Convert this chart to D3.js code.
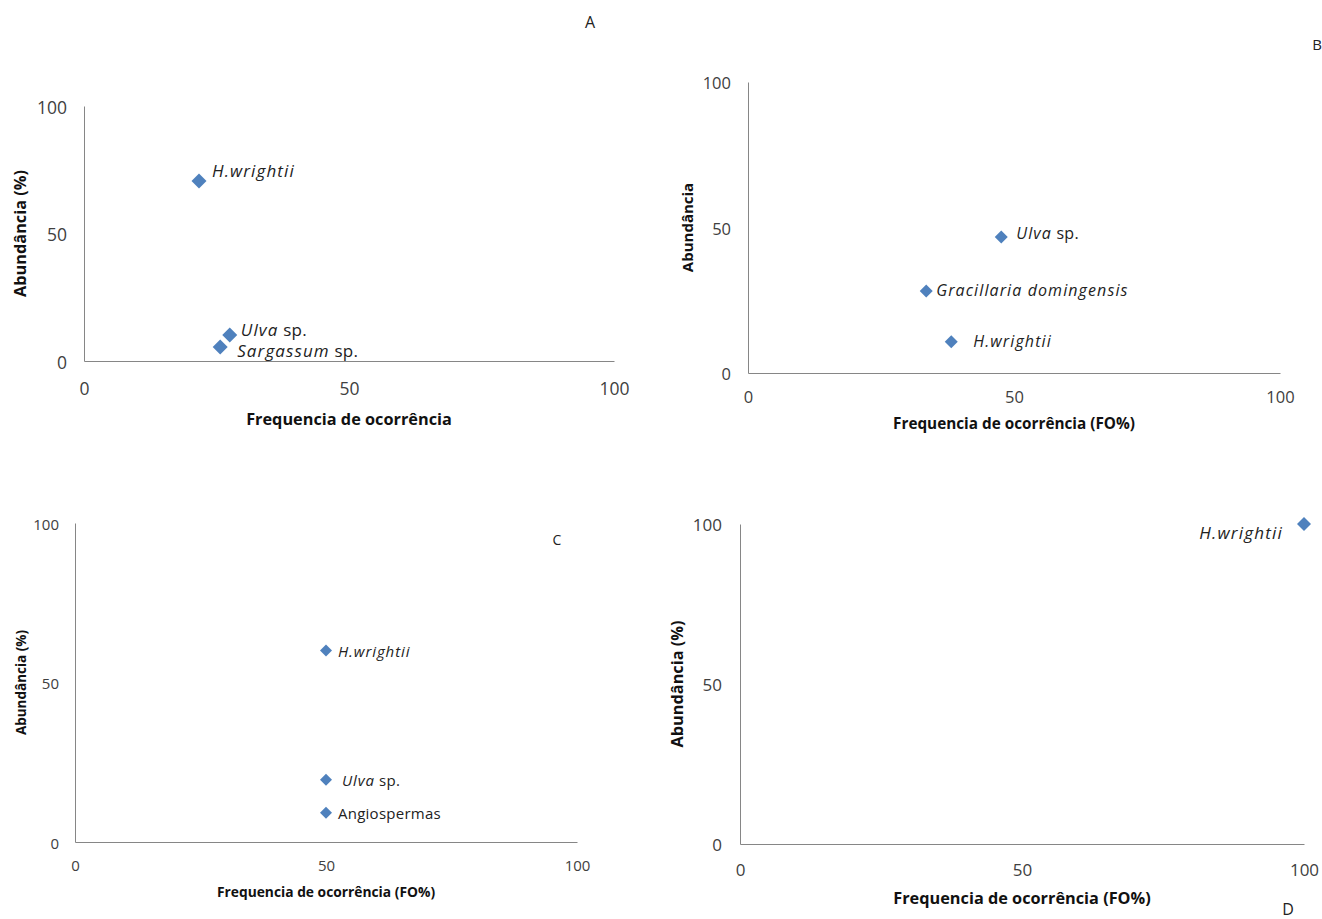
<!DOCTYPE html>
<html>
<head>
<meta charset="utf-8">
<script src="https://cdn.jsdelivr.net/npm/d3@7"></script>
<style>
  html, body { margin: 0; padding: 0; background: #fff; }
  svg { display: block; font-family: "Open Sans", Lato, sans-serif; }
</style>
</head>
<body>
<svg id="chart" width="1322" height="919"></svg>
<script>
// ---- Data ----
const tickValues = [0, 50, 100];

const speciesA = ["H.wrightii", "Ulva sp.", "Sargassum sp."];
const freqA    = [21.7, 27.5, 25.7];
const abundA   = [70.6, 10.2, 5.5];

const speciesB = ["Ulva sp.", "Gracillaria domingensis", "H.wrightii"];
const freqB    = [47.6, 33.5, 38.2];
const abundB   = [46.7, 28.2, 10.7];

const speciesC = ["H.wrightii", "Ulva sp.", "Angiospermas"];
const freqC    = [50, 50, 50];
const abundC   = [60, 19.5, 9.2];

const speciesD = ["H.wrightii"];
const freqD    = [100];
const abundD   = [100];

const nonItalic = ["Angiospermas"];

// ---- Layout (positions / styles only) ----
const FONT = "'Open Sans', Lato, sans-serif";
const panels = [
  { letter: "A", letterX: 590, letterY: 22, letterSize: 16,
    x0: 84, x1: 614, y0: 361, y1: 106,
    tickSize: 17.5, tickYGap: 17, tickXGap: 27,
    xTitle: "Frequencia de ocorrência", xTitleY: 419, xTitleSize: 16.3,
    yTitle: "Abundância (%)", yTitleX: 20, yTitleSize: 16.3,
    markR: 7.5, labelSize: 17, italicSpacing: 1.1, normalSpacing: 0.3,
    species: speciesA, freq: freqA, abund: abundA,
    labelDx: [13, 11, 17], labelDy: [-11, -6, 3], labelAnchor: "start" },
  { letter: "B", letterX: 1317, letterY: 44, letterSize: 15,
    x0: 748, x1: 1280, y0: 373, y1: 82,
    tickSize: 16.5, tickYGap: 17, tickXGap: 23,
    xTitle: "Frequencia de ocorrência (FO%)", xTitleY: 423, xTitleSize: 15.3,
    yTitle: "Abundância", yTitleX: 687, yTitleSize: 15,
    markR: 6.5, labelSize: 16, italicSpacing: 1.1, normalSpacing: 0.3,
    species: speciesB, freq: freqB, abund: abundB,
    labelDx: [15, 10, 22], labelDy: [-4, -1, -1], labelAnchor: "start" },
  { letter: "C", letterX: 557, letterY: 539, letterSize: 14,
    x0: 75, x1: 577, y0: 842, y1: 523,
    tickSize: 15, tickYGap: 16, tickXGap: 23,
    xTitle: "Frequencia de ocorrência (FO%)", xTitleY: 891, xTitleSize: 13.8,
    yTitle: "Abundância (%)", yTitleX: 21, yTitleSize: 13.5,
    markR: 6, labelSize: 15, italicSpacing: 0.9, normalSpacing: 0.25,
    species: speciesC, freq: freqC, abund: abundC,
    labelDx: [12, 16, 12], labelDy: [0, 0, 0], labelAnchor: "start" },
  { letter: "D", letterX: 1288, letterY: 909, letterSize: 16,
    x0: 740, x1: 1304, y0: 844, y1: 524,
    tickSize: 17, tickYGap: 18, tickXGap: 25,
    xTitle: "Frequencia de ocorrência (FO%)", xTitleY: 898, xTitleSize: 16.3,
    yTitle: "Abundância (%)", yTitleX: 677, yTitleSize: 16.3,
    markR: 7, labelSize: 17, italicSpacing: 1.2, normalSpacing: 0.3,
    species: speciesD, freq: freqD, abund: abundD,
    labelDx: [-21], labelDy: [8], labelAnchor: "end" }
];

const svg = d3.select("#chart");
const markColor = "#4F81BD";
const axisColor = "#868686";
const tickColor = "#404040";

panels.forEach(p => {
  const x = d3.scaleLinear().domain([0, 100]).range([p.x0, p.x1]);
  const y = d3.scaleLinear().domain([0, 100]).range([p.y0, p.y1]);
  const g = svg.append("g");

  // axes
  const xAxis = d3.axisBottom(x).tickValues(tickValues).tickSize(0).tickPadding(p.tickXGap);
  const yAxis = d3.axisLeft(y).tickValues(tickValues).tickSize(0).tickPadding(p.tickYGap);

  const gx = g.append("g").attr("transform", `translate(0,${p.y0})`).call(xAxis);
  const gy = g.append("g").attr("transform", `translate(${p.x0},0)`).call(yAxis);
  [gx, gy].forEach(a => {
    a.select(".domain").attr("stroke", axisColor).attr("stroke-width", 1);
    a.selectAll("text").attr("fill", tickColor).attr("font-size", p.tickSize)
      .attr("font-family", FONT);
  });
  gx.selectAll("text").attr("y", p.tickXGap).attr("dy", "0").attr("dominant-baseline", "central");
  gy.selectAll("text").attr("dy", "0").attr("dominant-baseline", "central");

  // axis titles
  g.append("text")
    .attr("x", (p.x0 + p.x1) / 2).attr("y", p.xTitleY)
    .attr("text-anchor", "middle").attr("dominant-baseline", "central")
    .attr("font-weight", "bold").attr("font-size", p.xTitleSize).attr("fill", "#111")
    .text(p.xTitle);
  g.append("text")
    .attr("transform", `translate(${p.yTitleX},${(p.y0 + p.y1) / 2}) rotate(-90)`)
    .attr("text-anchor", "middle").attr("dominant-baseline", "central")
    .attr("font-weight", "bold").attr("font-size", p.yTitleSize).attr("fill", "#111")
    .text(p.yTitle);

  // panel letter
  g.append("text")
    .attr("x", p.letterX).attr("y", p.letterY)
    .attr("text-anchor", "middle").attr("dominant-baseline", "central")
    .attr("font-size", p.letterSize).attr("fill", "#222")
    .text(p.letter);

  // points
  const data = p.species.map((s, i) => ({ s, fx: p.freq[i], ay: p.abund[i], i }));
  const diamond = d3.symbol().type(d3.symbolSquare).size(p.markR * p.markR * 2);
  g.selectAll("path.mark").data(data).join("path")
    .attr("class", "mark")
    .attr("d", diamond)
    .attr("transform", d => `translate(${x(d.fx)},${y(d.ay)}) rotate(45)`)
    .attr("fill", markColor);

  // labels
  const lbl = g.selectAll("text.lbl").data(data).join("text")
    .attr("class", "lbl")
    .attr("x", d => x(d.fx) + p.labelDx[d.i])
    .attr("y", d => y(d.ay) + p.labelDy[d.i])
    .attr("text-anchor", p.labelAnchor)
    .attr("dominant-baseline", "central")
    .attr("font-size", p.labelSize)
    .attr("fill", "#222");
  lbl.each(function(d) {
    const t = d3.select(this);
    if (nonItalic.includes(d.s)) {
      t.append("tspan").attr("letter-spacing", p.normalSpacing).text(d.s);
      return;
    }
    const m = d.s.match(/^(.*?)( sp\.)$/);
    if (m) {
      t.append("tspan").attr("font-style", "italic").attr("letter-spacing", p.italicSpacing).text(m[1]);
      t.append("tspan").attr("letter-spacing", p.normalSpacing).text(m[2]);
    } else {
      t.append("tspan").attr("font-style", "italic").attr("letter-spacing", p.italicSpacing).text(d.s);
    }
  });
});
</script>
</body>
</html>
